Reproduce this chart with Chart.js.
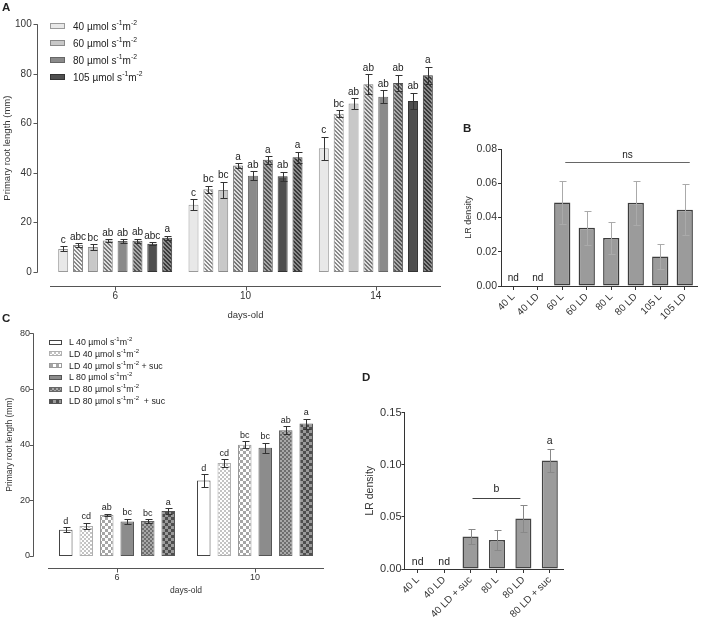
<!DOCTYPE html>
<html><head><meta charset="utf-8">
<script src="https://cdn.jsdelivr.net/npm/chart.js@4.4.1/dist/chart.umd.min.js"></script>
<style>
body{margin:0;background:#fff;}
#wrap{position:relative;width:708px;height:622px;overflow:hidden;background:#fff;font-family:Arial,"Liberation Sans",sans-serif;color:#222;}
#wrap canvas{position:absolute;}
.lab{position:absolute;font-weight:bold;font-size:11.5px;line-height:12px;}
.row{position:absolute;white-space:nowrap;display:flex;align-items:center;}
.sw{display:inline-block;box-sizing:border-box;background-repeat:repeat;}
sup{font-size:68%;vertical-align:0;position:relative;top:-0.5em;}
</style></head>
<body><div id="wrap">
<canvas id="cA" width="450" height="322" style="left:0;top:0"></canvas>
<canvas id="cB" width="268" height="215" style="left:440px;top:110px"></canvas>
<canvas id="cC" width="340" height="290" style="left:0;top:310px"></canvas>
<canvas id="cD" width="215" height="242" style="left:360px;top:380px"></canvas>
<div class="lab" style="left:2px;top:1px">A</div>
<div class="lab" style="left:463px;top:122px">B</div>
<div class="lab" style="left:2px;top:312px">C</div>
<div class="lab" style="left:362px;top:371px">D</div>
<div id="legA"></div>
<div id="legC"></div>
</div>
<script>
// ---------- Panel A data ----------
const daysA = ['6', '10', '14'];
const val40L  = [9.3, 27.1, 50.0];  const err40L  = [1.0, 2.2, 4.7];  const let40L  = ['c', 'c', 'c'];
const val40LD = [10.9, 33.4, 63.9]; const err40LD = [0.8, 1.5, 1.3];  const let40LD = ['abc', 'bc', 'bc'];
const val60L  = [10.1, 33.1, 68.0]; const err60L  = [1.2, 3.3, 2.1];  const let60L  = ['bc', 'bc', 'ab'];
const val60LD = [12.7, 43.0, 75.8]; const err60LD = [0.5, 1.0, 4.0];  const let60LD = ['ab', 'a', 'ab'];
const val80L  = [12.5, 38.9, 70.8]; const err80L  = [0.7, 1.8, 2.5];  const let80L  = ['ab', 'ab', 'ab'];
const val80LD = [12.6, 45.3, 76.3]; const err80LD = [0.9, 1.5, 3.4];  const let80LD = ['ab', 'a', 'ab'];
const val105L = [11.4, 38.7, 69.0]; const err105L = [0.7, 1.8, 3.3];  const let105L = ['abc', 'ab', 'ab'];
const val105LD= [13.8, 46.3, 79.4]; const err105LD= [0.9, 2.2, 3.4];  const let105LD= ['a', 'a', 'a'];
const legendA = ['40', '60', '80', '105'];

// ---------- Panel B data ----------
const catB = ['40 L', '40 LD', '60 L', '60 LD', '80 L', '80 LD', '105 L', '105 LD'];
const valB = [null, null, 0.0488, 0.0340, 0.0281, 0.0486, 0.0172, 0.0445];
const errB = [0, 0, 0.0125, 0.0100, 0.0094, 0.0129, 0.0072, 0.0150];
const letB = ['nd', 'nd', '', '', '', '', '', ''];

// ---------- Panel C data ----------
const daysC = ['6', '10'];
const valCL40    = [9.4, 27.1];  const errCL40    = [0.9, 2.2]; const letCL40    = ['d', 'd'];
const valCLD40   = [10.8, 33.4]; const errCLD40   = [1.1, 1.4]; const letCLD40   = ['cd', 'cd'];
const valCLD40s  = [14.7, 40.0]; const errCLD40s  = [0.5, 1.2]; const letCLD40s  = ['ab', 'bc'];
const valCL80    = [12.4, 38.9]; const errCL80    = [0.9, 1.8]; const letCL80    = ['bc', 'bc'];
const valCLD80   = [12.6, 45.2]; const errCLD80   = [0.6, 1.4]; const letCLD80   = ['bc', 'ab'];
const valCLD80s  = [16.2, 47.6]; const errCLD80s  = [1.0, 1.8]; const letCLD80s  = ['a', 'a'];
const legendC = ['L 40', 'LD 40', 'LD 40', 'L 80', 'LD 80', 'LD 80'];
const legendCsuffix = ['', '', ' + suc', '', '', '  + suc'];

// ---------- Panel D data ----------
const catD = ['40 L', '40 LD', '40 LD + suc', '80 L', '80 LD', '80 LD + suc'];
const valD = [null, null, 0.0312, 0.0277, 0.0483, 0.1040];
const errD = [0, 0, 0.0070, 0.0093, 0.0129, 0.0113];
const letD = ['nd', 'nd', '', '', '', 'a'];

// ---------- patterns ----------
function tile(size, fn){ const c=document.createElement('canvas'); c.width=c.height=size; fn(c.getContext('2d'), size); return c; }
function diagTile(bg, fg){ return tile(4,(g)=>{ g.fillStyle=bg; g.fillRect(0,0,4,4); g.fillStyle=fg; for(let i=0;i<4;i++){ g.fillRect(i,i,1,1); g.fillRect((i+1)%4,i,1,1);} }); }
function checkTile(n, a, b){ return tile(2*n,(g,s)=>{ g.fillStyle=a; g.fillRect(0,0,s,s); g.fillStyle=b; g.fillRect(0,0,n,n); g.fillRect(n,n,n,n); }); }
const pctx = document.createElement('canvas').getContext('2d');
const pat = t => pctx.createPattern(t, 'repeat');

const tA40LD = diagTile('#f2f2f2', '#8a8a8a');
const tA60LD = diagTile('#dddddd', '#777777');
const tA80LD = diagTile('#a8a8a8', '#555555');
const tA105LD = diagTile('#8a8a8a', '#3a3a3a');
const tC40LD = checkTile(2, '#ffffff', '#c4c4c4');
const tC40LDs = checkTile(3, '#ffffff', '#a6a6a6');
const tC80LD = checkTile(2, '#a8a8a8', '#6e6e6e');
const tC80LDs = checkTile(3, '#9a9a9a', '#4e4e4e');

// ---------- plugins ----------
const barExtras = {
  id: 'barExtras',
  afterDatasetsDraw(chart, args, o){
    const ctx = chart.ctx, xs = chart.scales.x, ys = chart.scales.y;
    ctx.save();
    chart.data.datasets.forEach((ds, di)=>{
      const meta = chart.getDatasetMeta(di);
      ds.data.forEach((v, i)=>{
        const el = meta.data[i];
        const x = (el && isFinite(el.x)) ? el.x : xs.getPixelForValue(i);
        const e = ds.err ? ds.err[i] : 0;
        let top = ys.getPixelForValue(0);
        if (v != null){
          const t = ys.getPixelForValue(v + e), b = ys.getPixelForValue(v - e);
          if (e > 0){
            const xx = Math.round(x) + 0.5, tt = Math.round(t) + 0.5, bb = Math.round(b) + 0.5;
            ctx.strokeStyle = o.errColor; ctx.lineWidth = 1;
            ctx.beginPath();
            ctx.moveTo(xx, tt); ctx.lineTo(xx, bb);
            ctx.moveTo(xx - o.cap, tt); ctx.lineTo(xx + o.cap + 1, tt);
            ctx.moveTo(xx - o.cap, bb); ctx.lineTo(xx + o.cap + 1, bb);
            ctx.stroke();
          }
          top = t;
        }
        const txt = ds.letters ? ds.letters[i] : '';
        if (txt){
          ctx.fillStyle = '#222'; ctx.font = o.fontSize + 'px Arial, "Liberation Sans", sans-serif';
          ctx.textAlign = 'center'; ctx.textBaseline = 'alphabetic';
          ctx.fillText(txt, x, top - (v == null ? o.ndGap : o.gap));
        }
      });
    });
    ctx.restore();
  }
};
const offsetAxes = {
  id: 'offsetAxes',
  afterDraw(chart, args, o){
    const ctx = chart.ctx, xs = chart.scales.x, ys = chart.scales.y, ca = chart.chartArea;
    ctx.save(); ctx.strokeStyle = o.color; ctx.lineWidth = 1; ctx.beginPath();
    const ax = Math.round(ca.left - o.yGap) + 0.5;
    ctx.moveTo(ax, ys.getPixelForValue(ys.max)); ctx.lineTo(ax, ys.getPixelForValue(ys.min) + 0.5);
    ys.ticks.forEach(t=>{ const py = Math.round(ys.getPixelForValue(t.value)) + 0.5; ctx.moveTo(ax - 4, py); ctx.lineTo(ax, py); });
    const ay = Math.round(ca.bottom + o.xGap) + 0.5;
    ctx.moveTo(ca.left, ay); ctx.lineTo(ca.right, ay);
    xs.ticks.forEach((t, i)=>{ const px = Math.round(xs.getPixelForTick(i)) + 0.5; ctx.moveTo(px, ay); ctx.lineTo(px, ay + 4); });
    ctx.stroke(); ctx.restore();
  }
};
const bracket = {
  id: 'bracket',
  afterDatasetsDraw(chart, args, o){
    const ctx = chart.ctx, xs = chart.scales.x, ys = chart.scales.y;
    const x1 = xs.getPixelForValue(o.from) + o.dx1, x2 = xs.getPixelForValue(o.to) + o.dx2;
    const y = Math.round(ys.getPixelForValue(o.value)) + 0.5;
    ctx.save(); ctx.strokeStyle = o.color; ctx.lineWidth = 1;
    ctx.beginPath(); ctx.moveTo(x1, y); ctx.lineTo(x2, y); ctx.stroke();
    ctx.fillStyle = '#222'; ctx.font = o.fontSize + 'px Arial, "Liberation Sans", sans-serif';
    ctx.textAlign = 'center'; ctx.textBaseline = 'alphabetic';
    ctx.fillText(o.text, (x1 + x2) / 2, y - o.gap);
    ctx.restore();
  }
};

Chart.defaults.font.family = 'Arial, "Liberation Sans", sans-serif';
Chart.defaults.color = '#333';

function fit(w, h){ return { w, h }; }
function yFit(w){ return s => { s.width = w; }; }
function xFit(h){ return s => { s.height = h; s.paddingLeft = 0; s.paddingRight = 0; }; }

// ---------- Chart A ----------
function dsA(label, data, err, letters, bg, border){
  return { label, data, err, letters, backgroundColor: bg, borderColor: border, borderWidth: 1,
    borderSkipped: false, categoryPercentage: 0.912, barPercentage: 0.673 };
}
new Chart(document.getElementById('cA'), {
  type: 'bar',
  data: { labels: daysA, datasets: [
    dsA('40 L', val40L, err40L, let40L, '#e8e8e8', '#9a9a9a'),
    dsA('40 LD', val40LD, err40LD, let40LD, pat(tA40LD), '#888888'),
    dsA('60 L', val60L, err60L, let60L, '#c8c8c8', '#8a8a8a'),
    dsA('60 LD', val60LD, err60LD, let60LD, pat(tA60LD), '#777777'),
    dsA('80 L', val80L, err80L, let80L, '#8a8a8a', '#666666'),
    dsA('80 LD', val80LD, err80LD, let80LD, pat(tA80LD), '#555555'),
    dsA('105 L', val105L, err105L, let105L, '#4f4f4f', '#333333'),
    dsA('105 LD', val105LD, err105LD, let105LD, pat(tA105LD), '#3a3a3a')
  ]},
  options: {
    responsive: false, animation: false, devicePixelRatio: 1,
    layout: { padding: { top: 16, right: 9, left: 0, bottom: 0 } },
    plugins: { legend: { display: false }, tooltip: { enabled: false },
      barExtras: { errColor: '#333', cap: 3, fontSize: 10, gap: 3.5, ndGap: 3 },
      offsetAxes: { yGap: 13, xGap: 14, color: '#555' } },
    scales: {
      x: { grid: { display: false, drawTicks: false }, border: { display: false },
        ticks: { padding: 18, font: { size: 10 }, color: '#333' },
        title: { display: true, text: 'days-old', font: { size: 9.5 }, color: '#333', padding: { top: 0, bottom: 1.3 } },
        afterFit: xFit(50) },
      y: { min: 0, max: 100, grid: { display: false, drawTicks: false }, border: { display: false },
        ticks: { stepSize: 20, padding: 18.3, font: { size: 10 }, color: '#333' },
        title: { display: true, text: 'Primary root length (mm)', font: { size: 9.5 }, color: '#333', padding: { top: 2, bottom: 0 } },
        afterFit: yFit(50) }
    }
  },
  plugins: [barExtras, offsetAxes]
});

// ---------- Chart B ----------
new Chart(document.getElementById('cB'), {
  type: 'bar',
  data: { labels: catB, datasets: [{ data: valB, err: errB, letters: letB, backgroundColor: '#9b9b9b',
    borderColor: '#3c3c3c', borderWidth: 1.5, borderSkipped: false, categoryPercentage: 0.8, barPercentage: 0.83 }]},
  options: {
    responsive: false, animation: false, devicePixelRatio: 1,
    layout: { padding: { top: 39, right: 11, left: 0, bottom: 0 } },
    plugins: { legend: { display: false }, tooltip: { enabled: false },
      barExtras: { errColor: '#aaaaaa', cap: 3, fontSize: 10, gap: 4, ndGap: 5 },
      bracket: { from: 2, to: 7, dx1: 3, dx2: 5, value: 0.0726, text: 'ns', gap: 5, fontSize: 10, color: '#666' } },
    scales: {
      x: { grid: { display: true, drawOnChartArea: false, drawTicks: true, tickLength: 4, offset: false, color: '#333' },
        border: { display: true, color: '#333', width: 1 },
        ticks: { autoSkip: false, minRotation: 45, maxRotation: 45, padding: 1, font: { size: 10 }, color: '#333' },
        afterFit: xFit(39) },
      y: { min: 0, max: 0.08, grid: { display: true, drawOnChartArea: false, drawTicks: true, tickLength: 3, color: '#333' },
        border: { display: true, color: '#333', width: 1 },
        ticks: { stepSize: 0.02, padding: 1, font: { size: 10.5 }, color: '#333', callback: v => Number(v).toFixed(2) },
        title: { display: true, text: 'LR density', font: { size: 9 }, color: '#333', padding: { top: 23.6, bottom: 0 } },
        afterFit: yFit(61) }
    }
  },
  plugins: [barExtras, bracket]
});

// ---------- Chart C ----------
function dsC(label, data, err, letters, bg, border){
  return { label, data, err, letters, backgroundColor: bg, borderColor: border, borderWidth: 1,
    borderSkipped: false, categoryPercentage: 0.891, barPercentage: 0.66 };
}
new Chart(document.getElementById('cC'), {
  type: 'bar',
  data: { labels: daysC, datasets: [
    dsC('L 40', valCL40, errCL40, letCL40, '#ffffff', '#444444'),
    dsC('LD 40', valCLD40, errCLD40, letCLD40, pat(tC40LD), '#b0b0b0'),
    dsC('LD 40 + suc', valCLD40s, errCLD40s, letCLD40s, pat(tC40LDs), '#9a9a9a'),
    dsC('L 80', valCL80, errCL80, letCL80, '#8c8c8c', '#555555'),
    dsC('LD 80', valCLD80, errCLD80, letCLD80, pat(tC80LD), '#666666'),
    dsC('LD 80 + suc', valCLD80s, errCLD80s, letCLD80s, pat(tC80LDs), '#555555')
  ]},
  options: {
    responsive: false, animation: false, devicePixelRatio: 1,
    layout: { padding: { top: 19.3, right: 16, left: 0, bottom: 0 } },
    plugins: { legend: { display: false }, tooltip: { enabled: false },
      barExtras: { errColor: '#333', cap: 3, fontSize: 9, gap: 3.5, ndGap: 3 },
      offsetAxes: { yGap: 15, xGap: 11.7, color: '#555' } },
    scales: {
      x: { grid: { display: false, drawTicks: false }, border: { display: false },
        ticks: { padding: 16.3, font: { size: 9 }, color: '#333' },
        title: { display: true, text: 'days-old', font: { size: 8.5 }, color: '#333', padding: { top: 0, bottom: 4.2 } },
        afterFit: xFit(44) },
      y: { min: 0, max: 80, grid: { display: false, drawTicks: false }, border: { display: false },
        ticks: { stepSize: 20, padding: 18, font: { size: 9 }, color: '#333' },
        title: { display: true, text: 'Primary root length (mm)', font: { size: 8.5 }, color: '#333', padding: { top: 4.7, bottom: 0 } },
        afterFit: yFit(48) }
    }
  },
  plugins: [barExtras, offsetAxes]
});

// ---------- Chart D ----------
new Chart(document.getElementById('cD'), {
  type: 'bar',
  data: { labels: catD, datasets: [{ data: valD, err: errD, letters: letD, backgroundColor: '#9b9b9b',
    borderColor: '#444444', borderWidth: 1.5, borderSkipped: false, categoryPercentage: 0.8, barPercentage: 0.76 }]},
  options: {
    responsive: false, animation: false, devicePixelRatio: 1,
    layout: { padding: { top: 32.5, right: 12, left: 0, bottom: 0 } },
    plugins: { legend: { display: false }, tooltip: { enabled: false },
      barExtras: { errColor: '#888888', cap: 3, fontSize: 10.5, gap: 5, ndGap: 4 },
      bracket: { from: 2, to: 4, dx1: 2, dx2: -3, value: 0.068, text: 'b', gap: 7, fontSize: 10.5, color: '#444' } },
    scales: {
      x: { grid: { display: true, drawOnChartArea: false, drawTicks: true, tickLength: 4, offset: false, color: '#333' },
        border: { display: true, color: '#333', width: 1 },
        ticks: { autoSkip: false, minRotation: 45, maxRotation: 45, padding: 1, font: { size: 10 }, color: '#333' },
        afterFit: xFit(53) },
      y: { min: 0, max: 0.15, grid: { display: true, drawOnChartArea: false, drawTicks: true, tickLength: 3, color: '#333' },
        border: { display: true, color: '#333', width: 1 },
        ticks: { stepSize: 0.05, padding: 0, font: { size: 11 }, color: '#333', callback: v => Number(v).toFixed(2) },
        title: { display: true, text: 'LR density', font: { size: 10.5 }, color: '#333', padding: { top: 3.7, bottom: 0 } },
        afterFit: yFit(44.5) }
    }
  },
  plugins: [barExtras, bracket]
});

// ---------- HTML legends ----------
const swA = ['#e8e8e8', '#c8c8c8', '#8a8a8a', '#4f4f4f'];
const swAb = ['#9a9a9a', '#8a8a8a', '#666666', '#333333'];
const legA = document.getElementById('legA');
legendA.forEach((v, i)=>{
  const r = document.createElement('div'); r.className = 'row';
  r.style.left = '50px'; r.style.top = (19 + i * 17) + 'px'; r.style.fontSize = '10px'; r.style.height = '14px';
  r.innerHTML = `<span class="sw" style="width:15px;height:6px;background:${swA[i]};border:1px solid ${swAb[i]};margin-right:8px"></span>${v} µmol s<sup>-1</sup> m<sup>-2</sup>`;
  legA.appendChild(r);
});
const swC = ['#ffffff', 'url(' + tC40LD.toDataURL() + ')', 'url(' + tC40LDs.toDataURL() + ')', '#8c8c8c', 'url(' + tC80LD.toDataURL() + ')', 'url(' + tC80LDs.toDataURL() + ')'];
const swCb = ['#444', '#b0b0b0', '#9a9a9a', '#555', '#666', '#555'];
const legC = document.getElementById('legC');
legendC.forEach((v, i)=>{
  const r = document.createElement('div'); r.className = 'row';
  r.style.left = '49px'; r.style.top = (336 + i * 11.8) + 'px'; r.style.fontSize = '8.8px'; r.style.height = '12px';
  r.innerHTML = `<span class="sw" style="width:13px;height:5px;background:${swC[i]};border:1px solid ${swCb[i]};margin-right:7px"></span>${v} µmol s<sup>-1</sup> m<sup>-2</sup>${legendCsuffix[i].replace(/ /g, '&nbsp;')}`;
  legC.appendChild(r);
});
</script>
</body></html>
